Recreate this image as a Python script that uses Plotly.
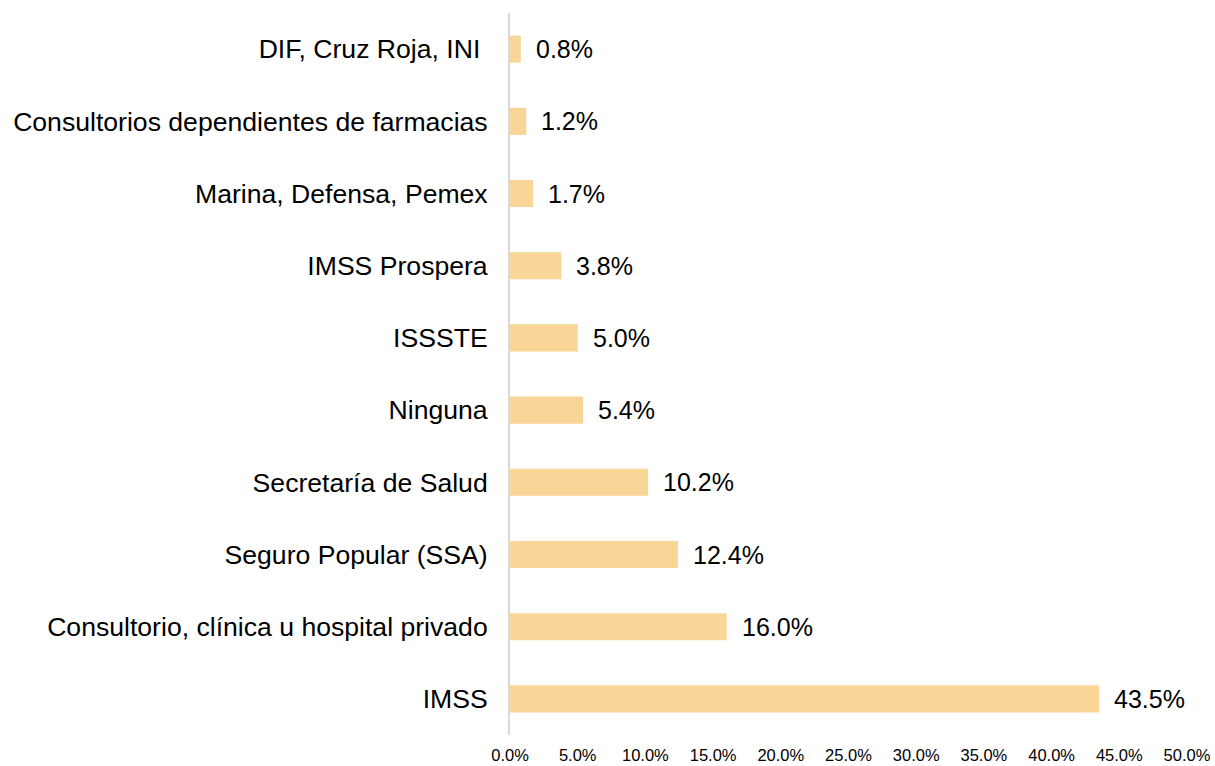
import plotly.graph_objects as go

categories = [
    "DIF, Cruz Roja, INI\u00a0",
    "Consultorios dependientes de farmacias",
    "Marina, Defensa, Pemex",
    "IMSS Prospera",
    "ISSSTE",
    "Ninguna",
    "Secretaría de Salud",
    "Seguro Popular (SSA)",
    "Consultorio, clínica u hospital privado",
    "IMSS",
]
values = [0.8, 1.2, 1.7, 3.8, 5.0, 5.4, 10.2, 12.4, 16.0, 43.5]
tick_values = [0, 5, 10, 15, 20, 25, 30, 35, 40, 45, 50]
tick_labels = [f"{t:.1f}%" for t in tick_values]

FONT = "Liberation Sans, Arial, sans-serif"

fig = go.Figure()
fig.add_trace(go.Bar(
    x=values,
    y=categories,
    orientation="h",
    marker=dict(color="#F9D598", line=dict(width=0)),
    hoverinfo="x+y",
))

for c, v in zip(categories, values):
    fig.add_annotation(
        x=v, y=c, xref="x", yref="y",
        text=f"{v:.1f}%",
        showarrow=False,
        xanchor="left", yanchor="middle",
        xshift=13, yshift=0,
        font=dict(family=FONT, size=25, color="#000000"),
    )

fig.update_layout(
    width=1215, height=766,
    margin=dict(l=510, r=28, t=13, b=31, autoexpand=False),
    paper_bgcolor="white",
    plot_bgcolor="white",
    showlegend=False,
    bargap=0.625,
    font=dict(family=FONT, color="#000000"),
)
fig.update_xaxes(
    range=[0, 50],
    tickmode="array",
    tickvals=tick_values,
    ticktext=tick_labels,
    showgrid=False,
    zeroline=False,
    showline=False,
    ticks="",
    ticklabelstandoff=8,
    tickfont=dict(family=FONT, size=16.5, color="#000000"),
    automargin=False,
    fixedrange=True,
)
fig.update_yaxes(
    autorange="reversed",
    showgrid=False,
    zeroline=False,
    showline=True,
    linecolor="#D9D9D9",
    linewidth=2,
    ticks="",
    ticklabelstandoff=15,
    tickfont=dict(family=FONT, size=26.6, color="#000000"),
    automargin=False,
    fixedrange=True,
)

fig.write_html(
    "out.html",
    config={"displayModeBar": False},
    post_script="document.body.style.margin='0';document.body.style.overflow='hidden';",
)
